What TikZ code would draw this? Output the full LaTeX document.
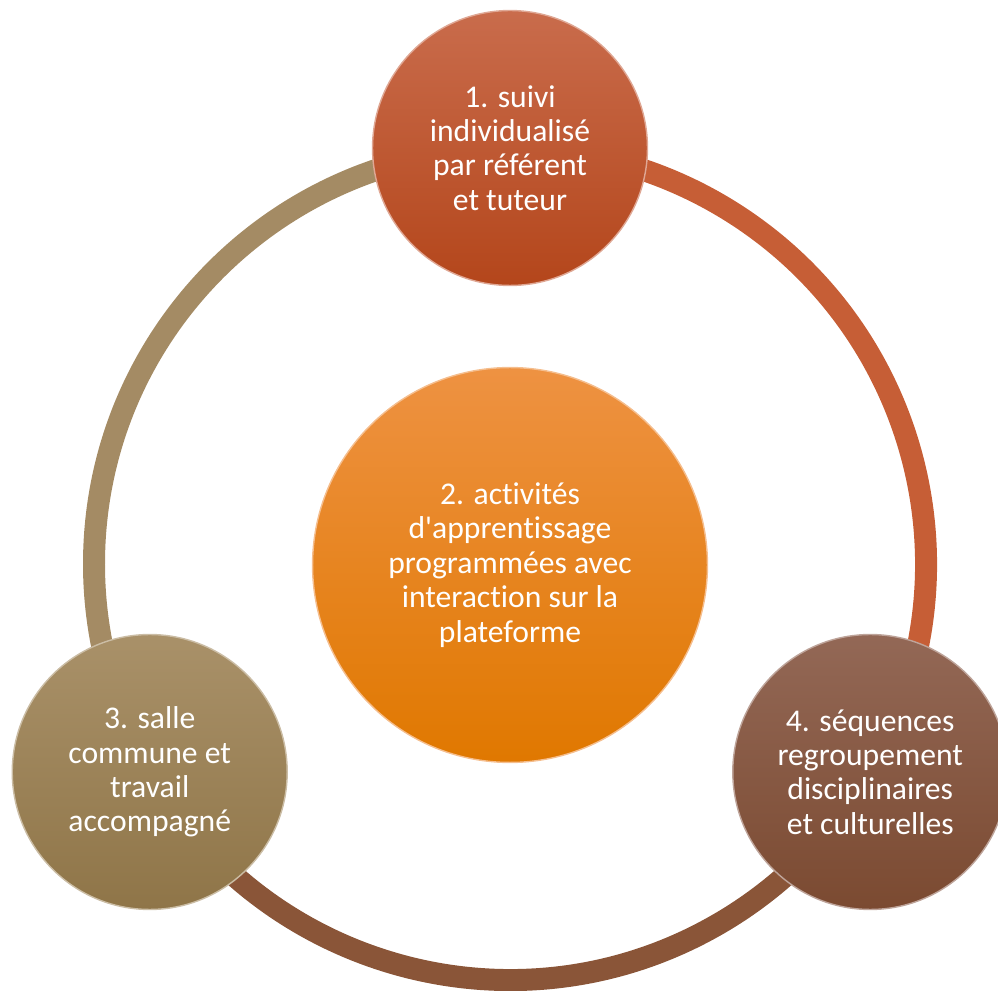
\documentclass[tikz,border=0pt]{standalone}
\usepackage{fontspec}
\setmainfont{Carlito}[Ligatures=NoCommon]
\usetikzlibrary{backgrounds}
\definecolor{rustTop}{HTML}{C96C4C}
\definecolor{rustBot}{HTML}{B4461B}
\definecolor{orangeTop}{HTML}{EE9242}
\definecolor{orangeBot}{HTML}{E07800}
\definecolor{tanTop}{HTML}{A99169}
\definecolor{tanBot}{HTML}{8F7548}
\definecolor{brownTop}{HTML}{936856}
\definecolor{brownBot}{HTML}{7B4A31}
\definecolor{tanRing}{HTML}{A48B64}
\definecolor{rustRing}{HTML}{C65E36}
\definecolor{brownRing}{HTML}{8A5538}
\tikzstyle{stage}=[circle, minimum size=5.5cm, inner sep=0, draw, line width=0.8pt, text=white, align=center, font=\fontsize{18}{19.6}\selectfont]
\tikzstyle{hub}=[stage, minimum size=7.9cm]
\tikzstyle{ring}=[line width=0.44cm]

\begin{document}
\begin{tikzpicture}[x=0.02cm, y=0.02cm]
          \useasboundingbox (0, 0) rectangle (998, 991);
          \coordinate (ctr) at (510, 427);
          \node[stage, top color=rustTop, bottom color=rustBot, draw=rustTop!60!white] (suivi) at ([shift={(90:416)}]ctr) {1. suivi\\individualisé\\par référent\\et tuteur};
          \node[stage, top color=tanTop, bottom color=tanBot, draw=tanTop!60!white] (salle) at ([shift={(210:416)}]ctr) {3. salle\\commune et\\travail\\accompagné};
          \node[stage, top color=brownTop, bottom color=brownBot, draw=brownTop!60!white] (sequences) at ([shift={(330:416)}]ctr) {4. séquences\\regroupement\\disciplinaires\\et culturelles};
          \node[hub, top color=orangeTop, bottom color=orangeBot, draw=orangeTop!60!white] (activites) at (510, 426) {2. activités\\d\textquotesingle apprentissage\\programmées avec\\interaction sur la\\plateforme};

          \begin{scope}[on background layer]
            \draw[ring, tanRing] (suivi.center) arc[start angle=90, end angle=210, radius=416];
            \draw[ring, brownRing] (salle.center) arc[start angle=210, end angle=330, radius=416];
            \draw[ring, rustRing] (sequences.center) arc[start angle=-30, end angle=90, radius=416];
          \end{scope}
        \end{tikzpicture}
\end{document}
